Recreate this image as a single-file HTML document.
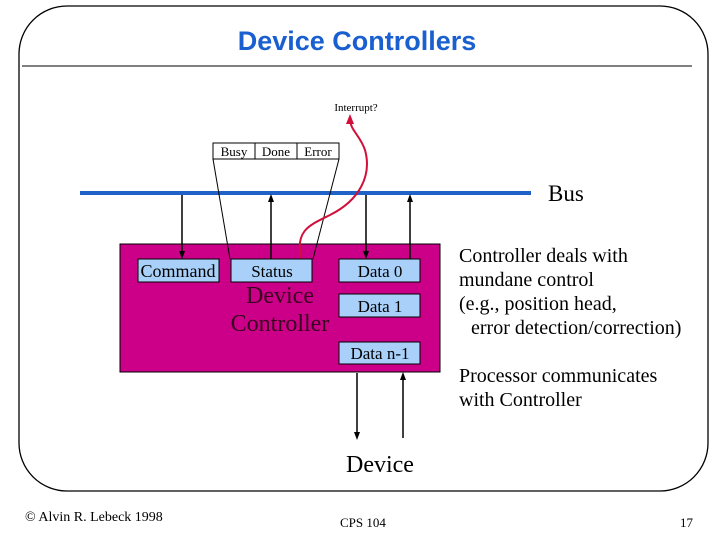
<!DOCTYPE html>
<html><head><meta charset="utf-8"><style>
body{margin:0;background:#fff;}
svg{display:block}
</style></head><body>
<svg width="720" height="540" viewBox="0 0 720 540" xmlns="http://www.w3.org/2000/svg">
<defs>
<marker id="a" markerWidth="8" markerHeight="8" refX="4" refY="4" orient="auto" markerUnits="userSpaceOnUse"><path d="M0,1 L8,4 L0,7 z" fill="#000"/></marker>
<marker id="r" markerWidth="10" markerHeight="10" refX="5" refY="5" orient="auto" markerUnits="userSpaceOnUse"><path d="M0,1 L10,5 L0,9 z" fill="#d0103a"/></marker>
</defs>
<rect x="19" y="6" width="689" height="485" rx="48" ry="48" fill="none" stroke="#000" stroke-width="1.3"/>
<text x="357" y="50" text-anchor="middle" font-family="Liberation Sans, sans-serif" font-weight="bold" font-size="27" fill="#1a5fd0">Device Controllers</text>
<line x1="22" y1="66" x2="692" y2="66" stroke="#000" stroke-width="1"/>
<g font-family="Liberation Serif, serif">
<text x="356" y="111" text-anchor="middle" font-size="11">Interrupt?</text>
<rect x="213" y="143" width="126" height="16" fill="#fff" stroke="#000"/>
<line x1="255" y1="143" x2="255" y2="159" stroke="#000"/>
<line x1="297" y1="143" x2="297" y2="159" stroke="#000"/>
<text x="234" y="156" text-anchor="middle" font-size="13">Busy</text>
<text x="276" y="156" text-anchor="middle" font-size="13">Done</text>
<text x="318" y="156" text-anchor="middle" font-size="13">Error</text>
<line x1="80" y1="193" x2="531" y2="193" stroke="#1f62c8" stroke-width="4"/>
<text x="548" y="201" font-size="23">Bus</text>
<rect x="120" y="244" width="320" height="128" fill="#cc0088" stroke="#000"/>
<line x1="213" y1="159" x2="230" y2="259" stroke="#000"/>
<line x1="339" y1="159" x2="313" y2="259" stroke="#000"/>
<g fill="#a8d0f8" stroke="#000">
<rect x="138" y="259" width="81" height="23"/>
<rect x="231" y="259" width="81" height="23"/>
<rect x="339" y="259" width="81" height="23"/>
<rect x="339" y="294" width="81" height="23"/>
<rect x="339" y="342" width="81" height="22"/>
</g>
<text x="178" y="277" text-anchor="middle" font-size="18">Command</text>
<text x="272" y="277" text-anchor="middle" font-size="17">Status</text>
<text x="380" y="277" text-anchor="middle" font-size="17">Data 0</text>
<text x="380" y="312" text-anchor="middle" font-size="17">Data 1</text>
<text x="380" y="359" text-anchor="middle" font-size="17">Data n-1</text>
<text x="280" y="303" text-anchor="middle" font-size="24" fill="#3a0020">Device</text>
<text x="280" y="331" text-anchor="middle" font-size="24" fill="#3a0020">Controller</text>
<g stroke="#000" stroke-width="1.5">
<line x1="182" y1="195" x2="182" y2="255" marker-end="url(#a)"/>
<line x1="271" y1="259" x2="271" y2="198" marker-end="url(#a)"/>
<line x1="366" y1="195" x2="366" y2="255" marker-end="url(#a)"/>
<line x1="410" y1="259" x2="410" y2="198" marker-end="url(#a)"/>
<line x1="357" y1="373" x2="357" y2="436" marker-end="url(#a)"/>
<line x1="403" y1="438" x2="403" y2="376" marker-end="url(#a)"/>
</g>
<path d="M301,258 C295,230 310,225 330,215 C360,200 372,175 365,150 C360,135 350,130 350,119" fill="none" stroke="#d0103a" stroke-width="2" marker-end="url(#r)"/>
<g font-size="20">
<text x="459" y="262">Controller deals with</text>
<text x="459" y="286">mundane control</text>
<text x="459" y="310">(e.g., position head,</text>
<text x="471" y="334">error detection/correction)</text>
<text x="459" y="382">Processor communicates</text>
<text x="459" y="406">with Controller</text>
</g>
<text x="346" y="472" font-size="24">Device</text>
<text x="25" y="521" font-size="14">© Alvin R. Lebeck 1998</text>
<text x="340" y="527" font-size="13">CPS 104</text>
<text x="680" y="527" font-size="13">17</text>
</g>
</svg>
</body></html>
